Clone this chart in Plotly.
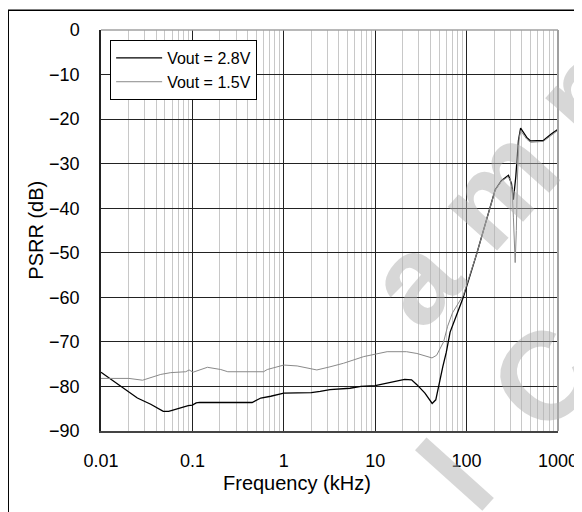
import plotly.graph_objects as go

# PSRR vs frequency
freq_28 = [0.01, 0.015, 0.025, 0.035, 0.048, 0.055, 0.075, 0.09, 0.1, 0.11, 0.12,
           0.45, 0.56, 0.72, 1.0, 2.0, 2.5, 3.2, 5.3, 7.0, 10, 14.6, 21, 25, 28.6,
           35, 40, 42, 46, 48, 55, 60, 66, 80, 92, 130, 181, 205, 240, 287, 310,
           325, 345, 369, 390, 455, 500, 690, 850, 1000]
psrr_28 = [-76.8, -79.3, -82.6, -84.0, -85.6, -85.6, -84.7, -84.3, -84.2, -83.7, -83.6,
           -83.6, -82.6, -82.2, -81.5, -81.4, -81.1, -80.7, -80.4, -80.0, -79.8, -79.1, -78.4, -78.5, -79.6,
           -81.5, -83.3, -83.8, -83.0, -81.0, -75.5, -72.3, -67.8, -63.3, -60.0, -50.0, -40.0, -35.9, -33.8, -32.6, -34.5,
           -38.1, -33.0, -24.8, -22.0, -24.1, -24.9, -24.8, -23.3, -22.3]

freq_15 = [0.01, 0.0202, 0.0285, 0.0451, 0.058, 0.0846, 0.092, 0.1018, 0.146, 0.204,
           0.244, 0.6, 0.66, 0.86, 1.0, 1.4, 2.3, 3.2, 4.5, 7.5, 10, 13.5, 22, 28.6,
           41.8, 47, 56, 62, 70, 92, 130, 181, 205, 240, 280, 300, 315, 325, 340,
           350, 360, 375, 390, 455, 500, 690, 850, 1000]
psrr_15 = [-78.2, -78.2, -78.6, -77.3, -76.9, -76.7, -76.3, -76.8, -75.7, -76.2,
           -76.7, -76.7, -76.2, -75.6, -75.2, -75.4, -76.3, -75.6, -74.8, -73.3, -72.7, -72.2, -72.2, -72.6,
           -73.6, -73.0, -70.0, -66.5, -63.5, -59.5, -50.0, -40.0, -36.0, -34.0, -33.0, -33.5, -36.0, -42.0, -52.2,
           -45.0, -33.0, -24.5, -22.6, -24.5, -25.2, -25.0, -23.5, -22.5]

x_ticks = [0.01, 0.1, 1, 10, 100, 1000]
x_labels = ["0.01", "0.1", "1", "10", "100", "1000"]
y_ticks = [0, -10, -20, -30, -40, -50, -60, -70, -80, -90]

FONT = "Liberation Sans, Arial, sans-serif"
WM = "rgba(175,175,175,0.5)"

fig = go.Figure()

fig.add_trace(go.Scatter(x=freq_28, y=psrr_28, mode="lines", name="Vout = 2.8V",
                         line=dict(color="black", width=1.3)))
fig.add_trace(go.Scatter(x=freq_15, y=psrr_15, mode="lines", name="Vout = 1.5V",
                         line=dict(color="#8a8a8a", width=1)))

fig.update_xaxes(type="log", range=[-2, 3], tickvals=x_ticks, ticktext=x_labels,
                 showgrid=True, gridcolor="#222", gridwidth=1,
                 minor=dict(dtick="D1", showgrid=True, gridcolor="#c8c8c8", gridwidth=1),
                 showline=True, linecolor="#444", linewidth=2,
                 ticks="", ticklabelstandoff=12, zeroline=False,
                 tickfont=dict(family=FONT, size=18, color="black"))
fig.update_yaxes(range=[-90, 0], tickvals=y_ticks, showgrid=True, gridcolor="#222",
                 gridwidth=1, showline=True, linecolor="#222", linewidth=1.5,
                 ticks="", ticklabelstandoff=16, zeroline=False,
                 tickfont=dict(family=FONT, size=18, color="black"))

# gray top/right frame of the plot area
fig.add_shape(type="line", xref="paper", yref="paper", x0=0, x1=1, y0=1, y1=1,
              line=dict(color="#a0a0a0", width=1.5))
fig.add_shape(type="line", xref="paper", yref="paper", x0=1, x1=1, y0=0, y1=1,
              line=dict(color="#a0a0a0", width=2))
# outer figure border (cut by the picture edges)
fig.add_shape(type="rect", xref="paper", yref="paper", x0=-0.203, x1=1.2, y0=-0.3, y1=1.049,
              line=dict(color="black", width=1.5))

# axis titles
fig.add_annotation(text="Frequency (kHz)", xref="paper", yref="paper", x=0.428, y=-0.13,
                   showarrow=False, xanchor="center", yanchor="middle",
                   font=dict(family=FONT, size=20, color="black"))
fig.add_annotation(text="PSRR (dB)", xref="paper", yref="paper", x=-0.144, y=0.5,
                   showarrow=False, textangle=-90, xanchor="center", yanchor="middle",
                   font=dict(family=FONT, size=20, color="black"))

# watermark, only partly inside the picture
fig.add_annotation(text="<b>a m p l e</b>", xref="paper", yref="paper", x=0.996, y=0.778,
                   showarrow=False, textangle=-48, xanchor="center", yanchor="middle",
                   font=dict(family=FONT, size=125, color=WM))
fig.add_annotation(text="<b>a l  C</b>", xref="paper", yref="paper", x=0.817, y=-0.059,
                   showarrow=False, textangle=-48, xanchor="center", yanchor="middle",
                   font=dict(family=FONT, size=125, color=WM))

fig.update_layout(
    width=582, height=512,
    margin=dict(l=93, r=31, t=18, b=89),
    plot_bgcolor="white", paper_bgcolor="white",
    font=dict(family=FONT, color="black"),
    showlegend=True,
    legend=dict(x=0.02, y=0.975, xanchor="left", yanchor="top",
                bgcolor="white", bordercolor="black", borderwidth=1,
                font=dict(family=FONT, size=16, color="black"),
                tracegroupgap=0, itemwidth=46),
)

fig.write_html("out.html")
